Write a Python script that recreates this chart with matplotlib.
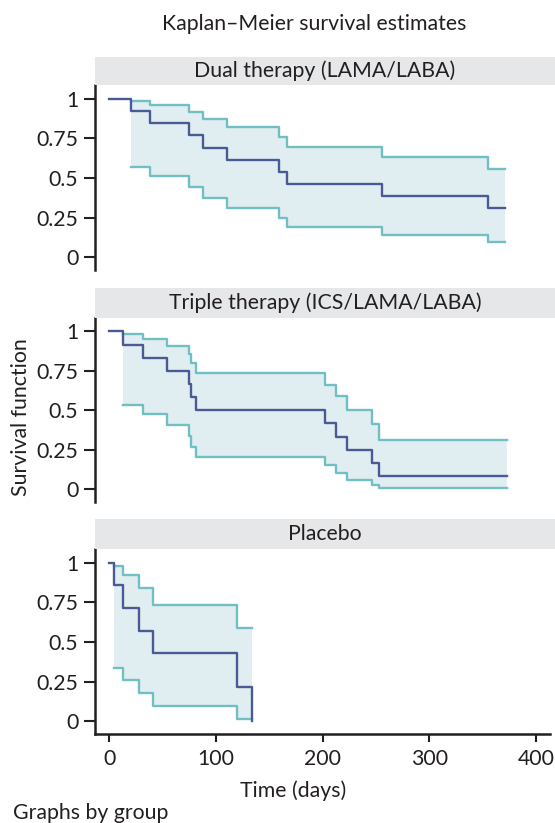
import matplotlib
matplotlib.use("Agg")
import matplotlib.pyplot as plt

plt.rcParams['font.family'] = ['Lato', 'DejaVu Sans']

# ---- data ----
groups = ["Dual therapy (LAMA/LABA)", "Triple therapy (ICS/LAMA/LABA)", "Placebo"]

dual_t = [0, 20, 38, 74.7, 88, 110.6, 159, 166.8, 256, 355]
dual_s = [1.0, 0.923, 0.846, 0.769, 0.692, 0.615, 0.538, 0.462, 0.385, 0.308]
dual_ci_t = [20, 38, 74.7, 88, 110.6, 159, 166.8, 256, 355]
dual_lo = [0.567, 0.515, 0.444, 0.372, 0.309, 0.248, 0.189, 0.139, 0.095]
dual_hi = [0.989, 0.960, 0.918, 0.874, 0.819, 0.761, 0.698, 0.630, 0.555]
dual_end = 370.6

trip_t = [0, 12.8, 31.9, 54, 74.7, 76.6, 81, 202, 212, 222.8, 246, 253]
trip_s = [1.0, 0.917, 0.833, 0.75, 0.667, 0.583, 0.5, 0.417, 0.333, 0.25, 0.167, 0.083]
trip_ci_t = [12.8, 31.9, 54, 74.7, 76.6, 81, 202, 212, 222.8, 246, 253]
trip_lo = [0.536, 0.479, 0.408, 0.334, 0.269, 0.206, 0.154, 0.101, 0.059, 0.028, 0.004]
trip_hi = [0.985, 0.951, 0.910, 0.857, 0.799, 0.734, 0.662, 0.589, 0.503, 0.410, 0.309]
trip_end = 372.4

plac_t = [0, 4.4, 12.8, 28.1, 41, 119.7, 133.7]
plac_s = [1.0, 0.857, 0.714, 0.571, 0.429, 0.214, 0.0]
plac_ci_t = [4.4, 12.8, 28.1, 41, 119.7]
plac_lo = [0.335, 0.259, 0.177, 0.097, 0.013]
plac_hi = [0.981, 0.924, 0.841, 0.736, 0.588]
plac_end = 133.7

y_ticks = [0, 0.25, 0.5, 0.75, 1]
y_ticklabels = ["0", "0.25", "0.5", "0.75", "1"]
x_ticks = [0, 100, 200, 300, 400]

series = [
    (dual_t, dual_s, dual_ci_t, dual_lo, dual_hi, dual_end),
    (trip_t, trip_s, trip_ci_t, trip_lo, trip_hi, trip_end),
    (plac_t, plac_s, plac_ci_t, plac_lo, plac_hi, plac_end),
]

# ---- layout ----
W, H = 555, 823
fig = plt.figure(figsize=(W / 100, H / 100), dpi=100)

LINE = '#4a5a94'
CI = '#72bfc3'
FILL = '#e1eef1'
STRIP = '#e6e7e8'
SPINE = '#231f20'
FS = 15.3

panels = [(85, 270, 57), (317.7, 501.7, 288), (549, 734, 519.3)]
ax_left, ax_right = 95, 550

for i, ((top, bot, stop), (t, s, ct, lo, hi, end), name) in enumerate(zip(panels, series, groups)):
    ax = fig.add_axes([ax_left / W, 1 - bot / H, (ax_right - ax_left) / W, (bot - top) / H])
    # CI band
    ctt = ct + [end]
    ax.fill_between(ctt, lo + [lo[-1]], hi + [hi[-1]], step='post', color=FILL, lw=0, zorder=1)
    ax.step(ctt, lo + [lo[-1]], where='post', color=CI, lw=1.7, zorder=2)
    ax.step(ctt, hi + [hi[-1]], where='post', color=CI, lw=1.7, zorder=2)
    # KM curve
    ax.step(t + [end], s + [s[-1]], where='post', color=LINE, lw=1.7, zorder=3)

    ax.set_xlim(-13.4, 413)
    ax.set_ylim(-0.08, 1.087)
    ax.set_yticks(y_ticks)
    ax.set_yticklabels(y_ticklabels)
    for sp in ['top', 'right']:
        ax.spines[sp].set_visible(False)
    ax.spines['left'].set_color(SPINE)
    ax.spines['left'].set_linewidth(1.8)
    ax.tick_params(axis='y', length=8, width=1.5, color=SPINE, labelsize=FS, pad=4,
                   labelcolor='#231f20')
    if i < 2:
        ax.spines['bottom'].set_visible(False)
        ax.set_xticks([])
    else:
        ax.spines['bottom'].set_color(SPINE)
        ax.spines['bottom'].set_linewidth(1.8)
        ax.set_xticks(x_ticks)
        ax.tick_params(axis='x', length=6, width=1.5, color=SPINE, labelsize=FS, pad=5,
                       labelcolor='#231f20')
        ax.set_xlabel("Time (days)", fontsize=FS, color='#231f20')
        ax.xaxis.set_label_coords(293 / W, 1 - 791 / H, transform=fig.transFigure)
        ax.xaxis.label.set_va('center')

    # strip
    sax = fig.add_axes([ax_left / W, 1 - top / H, (W - ax_left) / W, (top - stop) / H])
    sax.set_facecolor(STRIP)
    for sp in sax.spines.values():
        sp.set_visible(False)
    sax.set_xticks([])
    sax.set_yticks([])
    sax.text(0.5, 0.5, name, ha='center', va='center', fontsize=FS, color='#231f20',
             transform=sax.transAxes)

fig.text(314 / W, 1 - 24 / H, "Kaplan\u2013Meier survival estimates", ha='center', va='center',
         fontsize=FS, color='#231f20')
fig.text(21 / W, 1 - 417 / H, "Survival function", rotation=90, ha='center', va='center',
         fontsize=FS, color='#231f20')
fig.text(13 / W, 1 - 813 / H, "Graphs by group", ha='left', va='center',
         fontsize=FS, color='#231f20')

fig.savefig("out.png", dpi=100)
